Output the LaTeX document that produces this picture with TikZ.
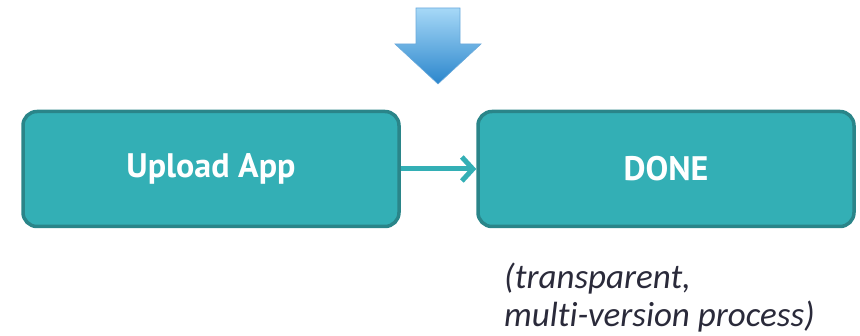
\documentclass[tikz,border=0pt]{standalone}
\usepackage{fontspec}
\setmainfont{PT Sans}
\newfontfamily\notefont[Ligatures=NoCommon]{Carlito}
\usetikzlibrary{arrows.meta,shadows}
\definecolor{boxfill}{HTML}{33AFB5}
\definecolor{boxline}{HTML}{2A8589}
\definecolor{bluetop}{HTML}{A6D8F7}
\definecolor{bluebot}{HTML}{2B86CC}
\definecolor{notecol}{HTML}{2A2A3A}
\tikzset{
  stagebox/.style={draw=boxline, line width=3.5pt, fill=boxfill, rounded corners=14pt,
    minimum width=376pt, minimum height=115pt, inner sep=0pt,
    text=white, font=\bfseries\fontsize{34}{40}\selectfont},
  flowarrow/.style={draw=boxfill, line width=5pt, -{Straight Barb[length=11pt,width=24pt,line width=5pt]}},
  notetext/.style={font=\notefont\itshape\fontsize{35}{38}\selectfont, text=notecol, align=left, inner sep=0pt, anchor=base west}
}
\begin{document}
\begin{tikzpicture}[x=1pt,y=-1pt]
\useasboundingbox (0,0) rectangle (860,336);
% blue down arrow
\shade[top color=bluetop, bottom color=bluebot, draw=bluebot!70, line width=0.6pt]
  (416,8) -- (460,8) -- (460,44) -- (481,44) -- (438,84) -- (395,44) -- (416,44) -- cycle;
\node[stagebox] (upload) at (211,169) {Upload App};
\node[stagebox] (done) at (666,169) {DONE};
\draw[flowarrow] (upload.east) -- (done.west);
\node[notetext] (note) at (504,327) {(transparent,\\multi-version process)};
\end{tikzpicture}
\end{document}
